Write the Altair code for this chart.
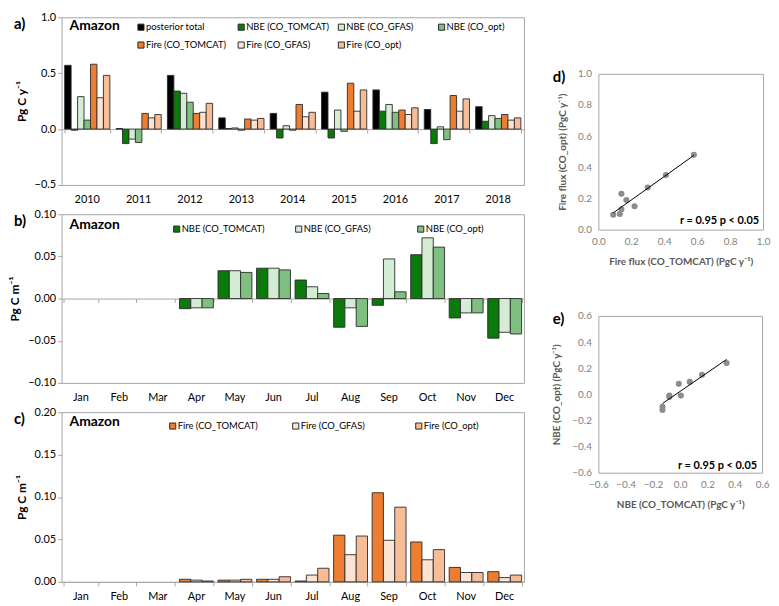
import altair as alt
import pandas as pd

# ---- annual totals (Pg C / yr), panel a ----
years = ["2010", "2011", "2012", "2013", "2014", "2015", "2016", "2017", "2018"]
posterior_total = [0.57, 0.005, 0.48, 0.10, 0.14, 0.33, 0.35, 0.175, 0.20]
nbe_tomcat = [-0.01, -0.13, 0.34, 0.005, -0.08, -0.08, 0.16, -0.13, 0.07]
nbe_gfas = [0.29, -0.09, 0.32, 0.01, 0.03, 0.17, 0.22, 0.02, 0.12]
nbe_opt = [0.08, -0.12, 0.24, -0.01, -0.01, -0.02, 0.15, -0.095, 0.095]
fire_tomcat = [0.58, 0.14, 0.14, 0.09, 0.22, 0.41, 0.17, 0.30, 0.13]
fire_gfas = [0.28, 0.10, 0.15, 0.08, 0.11, 0.16, 0.13, 0.16, 0.08]
fire_opt = [0.48, 0.13, 0.23, 0.095, 0.15, 0.35, 0.19, 0.27, 0.10]

# ---- monthly means, panels b and c ----
months = ["Jan", "Feb", "Mar", "Apr", "May", "Jun", "Jul", "Aug", "Sep", "Oct", "Nov", "Dec"]
nbe_tomcat_m = [0, 0, 0, -0.012, 0.033, 0.036, 0.022, -0.034, -0.008, 0.052, -0.023, -0.047]
nbe_gfas_m = [0, 0, 0, -0.011, 0.033, 0.036, 0.014, -0.011, 0.047, 0.072, -0.017, -0.040]
nbe_opt_m = [0, 0, 0, -0.011, 0.031, 0.034, 0.006, -0.033, 0.008, 0.061, -0.017, -0.042]
fire_tomcat_m = [0, 0, 0, 0.003, 0.002, 0.003, 0.001, 0.055, 0.105, 0.047, 0.017, 0.012]
fire_gfas_m = [0, 0, 0, 0.002, 0.002, 0.003, 0.008, 0.032, 0.049, 0.026, 0.011, 0.005]
fire_opt_m = [0, 0, 0, 0.001, 0.003, 0.006, 0.016, 0.054, 0.088, 0.038, 0.011, 0.008]

series_a = ["posterior total", "NBE (CO_TOMCAT)", "NBE (CO_GFAS)", "NBE (CO_opt)",
            "Fire (CO_TOMCAT)", "Fire (CO_GFAS)", "Fire (CO_opt)"]
colors_a = ["#000000", "#0a7a0a", "#d4ecd4", "#7fbf7f", "#ed7d31", "#fde4d2", "#f6bd96"]
series_b = series_a[1:4]
series_c = series_a[4:7]

FONT = "Lato"
FRAME = "#a6a6a6"
EDGE = "#2b2b2b"


def long_df(cats, names, cols):
    rows = []
    for name, vals in zip(names, cols):
        for c, v in zip(cats, vals):
            rows.append({"cat": c, "series": name, "value": v})
    return pd.DataFrame(rows)


df_a = long_df(years, series_a, [posterior_total, nbe_tomcat, nbe_gfas, nbe_opt,
                                 fire_tomcat, fire_gfas, fire_opt])
df_b = long_df(months, series_b, [nbe_tomcat_m, nbe_gfas_m, nbe_opt_m])
df_c = long_df(months, series_c, [fire_tomcat_m, fire_gfas_m, fire_opt_m])


def note(text, x, y, size, align="left"):
    return alt.Chart(pd.DataFrame({"t": [text]})).mark_text(
        align=align, baseline="middle", fontWeight="bold", fontSize=size, font=FONT, color="black"
    ).encode(text="t:N", x=alt.value(x), y=alt.value(y))


def key(order, colors, x0, y0, stride, ncol):
    # Excel-style legend: fixed column stride, entries read row by row
    base = alt.Chart(pd.DataFrame({"series": order})).transform_window(
        idx="row_number()"
    ).transform_calculate(
        lx=f"{x0} + ((datum.idx - 1) % {ncol}) * {stride}",
        ly=f"{y0} + floor((datum.idx - 1) / {ncol}) * 18",
    )
    pos = dict(x=alt.X("lx:Q", scale=None, axis=None), y=alt.Y("ly:Q", scale=None, axis=None))
    sym = base.mark_square(size=38, stroke=EDGE, strokeWidth=1, opacity=1).encode(
        color=alt.Color("series:N", scale=alt.Scale(domain=order, range=colors), legend=None),
        **pos)
    txt = base.mark_text(align="left", baseline="middle", dx=5, fontSize=9.5, font=FONT,
                         color="black").encode(text="series:N", **pos)
    return [sym, txt]


def bar_panel(df, cats, order, colors, ydom, yticks, fmt, ytitle, label, zero_off,
              kx, ky, stride, ncol, width, height, amazon_y):
    bars = alt.Chart(df).transform_filter("datum.value != 0").mark_bar(
        stroke=EDGE, strokeWidth=0.9
    ).encode(
        x=alt.X("cat:N", sort=cats,
                scale=alt.Scale(domain=cats, paddingInner=0.12, paddingOuter=0.06),
                axis=alt.Axis(orient="bottom", title=None, labelAngle=0, domain=False, ticks=False,
                              labelPadding=9, labelFontSize=11, labelColor="black")),
        xOffset=alt.XOffset("series:N", sort=order, scale=alt.Scale(domain=order)),
        y=alt.Y("value:Q", scale=alt.Scale(domain=ydom, nice=False),
                axis=alt.Axis(values=yticks, format=fmt, grid=False, domain=False,
                              tickColor=FRAME, tickSize=4, labelFontSize=11, labelColor="black",
                              title=ytitle, titleFontSize=12, titleFontWeight="bold",
                              titleColor="black", titlePadding=6)),
        color=alt.Color("series:N", scale=alt.Scale(domain=order, range=colors), legend=None),
    )
    zero = alt.Chart(df).mark_point(opacity=0).encode(
        x=alt.X("cat:N", sort=cats,
                axis=alt.Axis(orient="bottom", offset=zero_off, labels=False, title=None,
                              tickBand="extent", tickColor=FRAME, domainColor=FRAME,
                              tickSize=4, domainWidth=1)),
    )
    return alt.layer(
        bars, zero, *key(order, colors, kx, ky, stride, ncol),
        note("Amazon", 8, amazon_y, 14), note(label, -48, 7, 15)
    ).resolve_axis(x="independent").properties(width=width, height=height)


W = 466
pa = bar_panel(df_a, years, series_a, colors_a, [-0.5, 1.0], [-0.5, 0, 0.5, 1.0], ".1f",
               "Pg C y⁻¹", "a)", -56.3, 80, 10, 101, 4, W, 169, 9)
pb = bar_panel(df_b, months, series_b, colors_a[1:4], [-0.1, 0.1], [-0.1, -0.05, 0, 0.05, 0.1],
               ".2f", "Pg C m⁻¹", "b)", -85, 116, 15, 123, 3, W, 170, 11)
pc = bar_panel(df_c, months, series_c, colors_a[4:7], [0, 0.2], [0, 0.05, 0.1, 0.15, 0.2],
               ".2f", "Pg C m⁻¹", "c)", 0, 112, 14, 124, 3, W, 171, 10)

left = alt.vconcat(pa, pb, pc, spacing=29.5, bounds="flush").resolve_scale(
    color="independent", xOffset="independent")


def scatter_panel(xv, yv, dom, ticks, xtitle, ytitle, label, rx, ry, w, h):
    df = pd.DataFrame({"x": xv, "y": yv})
    ax = dict(values=ticks, format=".1f", grid=False, ticks=False, domain=False,
              labelOverlap=False, labelFlush=False,
              labelColor="#7f7f7f", labelFontSize=10, labelPadding=7,
              titleFontSize=10, titleColor="#595959", titleFontWeight="bold", titlePadding=10)
    xe = alt.X("x:Q", scale=alt.Scale(domain=dom, nice=False), axis=alt.Axis(title=xtitle, **ax))
    ye = alt.Y("y:Q", scale=alt.Scale(domain=dom, nice=False), axis=alt.Axis(title=ytitle, **ax))
    pts = alt.Chart(df).mark_circle(size=38, color="#8c8c8c", opacity=1).encode(x=xe, y=ye)
    fit = alt.Chart(df).transform_regression("x", "y").mark_line(
        color="black", strokeWidth=1
    ).encode(x=xe, y=ye)
    return alt.layer(
        pts, fit, note("r = 0.95 p < 0.05", rx, ry, 11, align="right"), note(label, -46, 3, 15)
    ).properties(width=w, height=h)


pd_ = scatter_panel(fire_tomcat, fire_opt, [0, 1], [0, 0.2, 0.4, 0.6, 0.8, 1.0],
                    "Fire flux (CO_TOMCAT) (PgC y⁻¹)", "Fire flux (CO_opt) (PgC y⁻¹)", "d)",
                    162, 148, 166, 157)
pe = scatter_panel(nbe_tomcat, nbe_opt, [-0.6, 0.6], [-0.6, -0.4, -0.2, 0, 0.2, 0.4, 0.6],
                   "NBE (CO_TOMCAT) (PgC y⁻¹)", "NBE (CO_opt) (PgC y⁻¹)", "e)",
                   160, 151, 165, 158)


def spacer(h):
    return alt.Chart(pd.DataFrame({"v": [0]})).mark_point(opacity=0).properties(
        width=10, height=h, view=alt.ViewBackground(stroke="transparent"))


right = alt.vconcat(spacer(27), pd_, spacer(27), pe, spacing=30, bounds="flush")

chart = alt.hconcat(left, right, spacing=26).properties(
    padding={"left": 0, "top": 0, "right": 0, "bottom": 0}
).configure(font=FONT).configure_view(stroke=FRAME, strokeWidth=1).configure_axis(
    labelFont=FONT, titleFont=FONT
)

chart.save("out.html", embed_options={"renderer": "svg", "actions": False})
